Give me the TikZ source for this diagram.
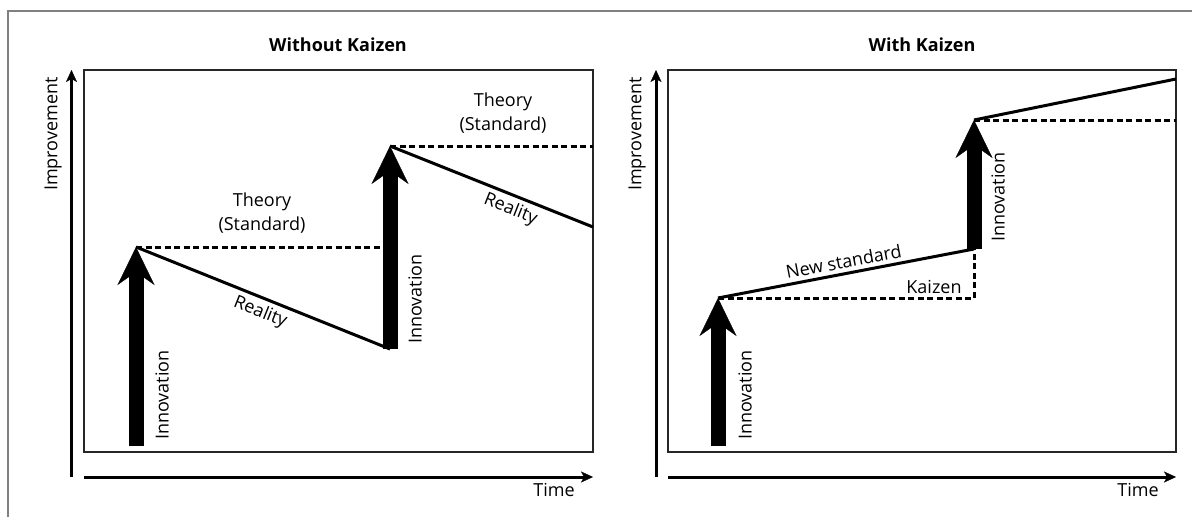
\documentclass[tikz,border=0pt]{standalone}
\usepackage{fontspec}
\setmainfont{Open Sans}
\usetikzlibrary{arrows.meta}
\begin{document}
\begin{tikzpicture}[x=1pt,y=-1pt,
  every node/.style={font=\fontsize{18}{24}\selectfont, inner sep=0pt},
  frameline/.style={draw=black!50, line width=1.5pt},
  plotbox/.style={draw=black!85, line width=1.2pt},
  axis/.style={line width=3pt, -{Stealth[length=12pt,width=11pt,inset=3pt,line width=0.3pt]}},
  bigarrow/.style={line width=15pt, -{Stealth[length=38pt,width=37pt,inset=13pt,line width=0.3pt]}},
  trend/.style={line width=3pt},
  theory/.style={line width=3pt, dash pattern=on 6pt off 3.5pt},
  title/.style={font=\fontsize{18}{24}\selectfont\bfseries},
  vlabel/.style={rotate=90, anchor=west},
]
\useasboundingbox (0,0) rectangle (1192,517);

% outer frame
\draw[frameline] (8,517) -- (8,11) -- (1192,11);

% ---------------- left chart: without kaizen ----------------
\node[title] (tL) at (338,45) {Without Kaizen};
\draw[plotbox] (84,70) rectangle (593,452);
\coordinate (LyB) at (71.5,477);
\coordinate (LyT) at (71.5,70);
\coordinate (LxA) at (84,477);
\coordinate (LxB) at (593,477);
\draw[axis] (LyB) -- (LyT);
\draw[axis] (LxA) -- (LxB);
\node[rotate=90, anchor=east] (yL) at (53,77) {Improvement};
\node (xL) at (554,490) {Time};

\coordinate (L1base) at (136,446);
\coordinate (L1peak) at (136,247);
\coordinate (L2base) at (390,349);
\coordinate (L2peak) at (390,146);
\coordinate (L2mid)  at (390,247);
\coordinate (LendT)  at (593,146);
\coordinate (LendR)  at (593,227);

\draw[theory] (L1peak) -- (L2mid);
\draw[theory] (L2peak) -- (LendT);
\draw[trend] (L1peak) -- node[pos=0.51, sloped, below=4pt] (realL1) {Reality} (L2base);
\draw[trend] (L2peak) -- node[pos=0.62, sloped, below=4pt] (realL2) {Reality} (LendR);
\draw[bigarrow] (L1base) -- (L1peak);
\draw[bigarrow] (L2base) -- (L2peak);

\node[vlabel] (innL1) at (162,440) {Innovation};
\node[vlabel] (innL2) at (415,344) {Innovation};
\node[align=center] (thL1) at (262,213) {Theory\\(Standard)};
\node[align=center] (thL2) at (503,113) {Theory\\(Standard)};

% ---------------- right chart: with kaizen ----------------
\node[title] (tR) at (922,45) {With Kaizen};
\draw[plotbox] (668,70) rectangle (1176,452);
\coordinate (RyB) at (656,477);
\coordinate (RyT) at (656,70);
\coordinate (RxA) at (668,477);
\coordinate (RxB) at (1176,477);
\draw[axis] (RyB) -- (RyT);
\draw[axis] (RxA) -- (RxB);
\node[rotate=90, anchor=east] (yR) at (637,77) {Improvement};
\node (xR) at (1138,490) {Time};

\coordinate (R1base) at (718,446);
\coordinate (R1peak) at (718,298);
\coordinate (Rcorner) at (974,298);
\coordinate (R2base) at (974,249);
\coordinate (R2peak) at (974,120);
\coordinate (RendT)  at (1176,120);
\coordinate (RendR)  at (1176,79);

\draw[theory] (R1peak) -- (Rcorner) -- (R2base);
\draw[trend] (R1peak) -- node[pos=0.5, sloped, above=4pt] (newstd) {New standard} (R2base);
\draw[theory] (R2peak) -- (RendT);
\draw[trend] (R2peak) -- (RendR);
\draw[bigarrow] (R1base) -- (R1peak);
\draw[bigarrow] (R2base) -- (R2peak);

\node (kaizen) at (934,287) {Kaizen};
\node[vlabel] (innR1) at (745,440) {Innovation};
\node[vlabel] (innR2) at (998,242) {Innovation};
\end{tikzpicture}
\end{document}
